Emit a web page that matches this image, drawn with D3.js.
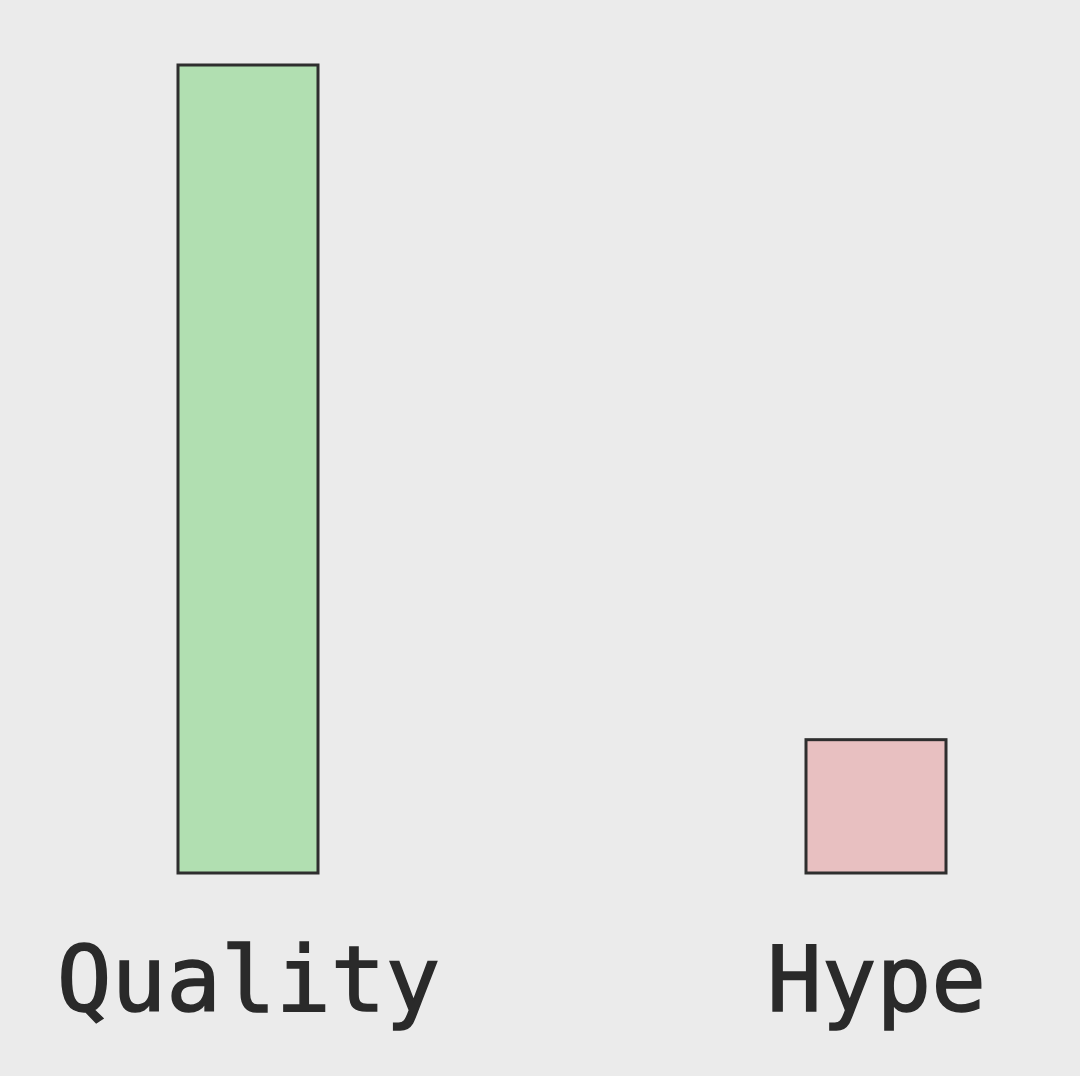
<!DOCTYPE html>
<html><head><meta charset="utf-8">
<script src="https://cdn.jsdelivr.net/npm/d3@7"></script>
<style>html,body{margin:0;padding:0;background:#ebebeb;}svg{display:block;}</style>
</head><body>
<script>
const categories = ["Quality", "Hype"];
const values = [100, 16.5];
const colors = ["#b1dfb1", "#e8c0c1"];

const W = 1080, H = 1076;
const svg = d3.select("body").append("svg").attr("width", W).attr("height", H);
svg.append("rect").attr("width", W).attr("height", H).attr("fill", "#ebebeb");

const x = d3.scalePoint().domain(categories).range([248, 876]);
const y = d3.scaleLinear().domain([0, 100]).range([873, 65]);
const bw = 140;

svg.selectAll("rect.bar").data(categories).join("rect")
  .attr("class", "bar")
  .attr("x", d => x(d) - bw / 2)
  .attr("width", bw)
  .attr("y", (d, i) => y(values[i]))
  .attr("height", (d, i) => y(0) - y(values[i]))
  .attr("fill", (d, i) => colors[i])
  .attr("stroke", "#2e2e2e")
  .attr("stroke-width", 3);

const axis = d3.axisBottom(x).tickSize(0).tickPadding(0);
const g = svg.append("g").attr("transform", "translate(0,1011)").call(axis);
g.select(".domain").remove();
g.selectAll("text")
  .attr("dy", 0)
  .attr("font-family", "'DejaVu Sans Mono', monospace")
  .attr("font-size", 91)
  .attr("fill", "#2a2a2a")
  .attr("stroke", "#2a2a2a").attr("stroke-width", 1.5);
</script>
</body></html>
